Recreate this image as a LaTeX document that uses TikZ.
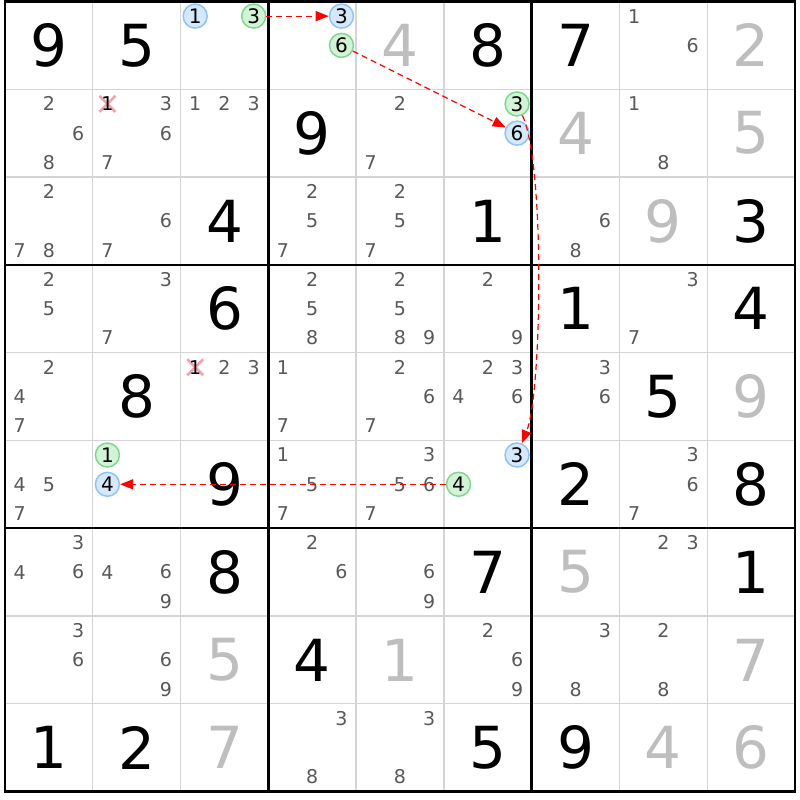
\documentclass[tikz,border=0pt]{standalone}
\usepackage{fontspec}
\setmainfont{DejaVu Sans}
\usetikzlibrary{arrows.meta}
\definecolor{candgrey}{HTML}{585858}
\definecolor{solvedgrey}{HTML}{BEBEBE}
\definecolor{gridgrey}{HTML}{D4D4D4}
\definecolor{blueedge}{HTML}{8CC4F8}
\definecolor{bluefill}{HTML}{D6E9FC}
\definecolor{greenedge}{HTML}{7FD68F}
\definecolor{greenfill}{HTML}{D3F3D6}
\definecolor{crosspink}{HTML}{F4A3AE}
\tikzset{
  thinline/.style={gridgrey,line width=1.3pt},
  thickline/.style={black,line width=2.6pt},
  given/.style={font=\fontsize{58}{60}\selectfont,inner sep=0pt},
  solved/.style={given,text=solvedgrey},
  cand/.style={font=\fontsize{19}{20}\selectfont,text=candgrey,inner sep=0pt},
  ringcand/.style={circle,line width=1.5pt,minimum size=24pt,inner sep=0pt,font=\fontsize{20}{21}\selectfont},
  bluecand/.style={ringcand,draw=blueedge,fill=bluefill},
  greencand/.style={ringcand,draw=greenedge,fill=greenfill},
  crossmark/.style={crosspink,line width=2.6pt},
  link/.style={red,dash pattern=on 6pt off 4pt,line width=1.2pt,-{Triangle[length=13pt,width=10pt]}}
}
\begin{document}
\begin{tikzpicture}[x=1pt,y=1pt]
\useasboundingbox (0,0) rectangle (800,-800);
% grid
\foreach \i in {1,...,8} {
  \draw[thinline] ({5+87.78*\i},-1.5) -- ({5+87.78*\i},-791.5);
  \draw[thinline] (5,{-1.5-87.78*\i}) -- (795,{-1.5-87.78*\i});
}
\foreach \i in {3,6} {
  \draw[thickline] ({5+87.78*\i},-1.5) -- ({5+87.78*\i},-791.5);
  \draw[thickline] (5,{-1.5-87.78*\i}) -- (795,{-1.5-87.78*\i});
}
\draw[thickline] (5,-1.5) rectangle (795,-791.5);
% givens and solved cells
\foreach \r/\c/\d in {0/0/9,0/1/5,0/5/8,0/6/7,1/3/9,2/2/4,2/5/1,2/8/3,3/2/6,3/6/1,3/8/4,
    4/1/8,4/7/5,5/2/9,5/6/2,5/8/8,6/2/8,6/5/7,6/8/1,7/3/4,8/0/1,8/1/2,8/5/5,8/6/9}
  \node[given] (v-\r-\c) at ({48.89+87.78*\c},{-45.39-87.78*\r}) {\d};
\foreach \r/\c/\d in {0/4/4,0/8/2,1/6/4,1/8/5,2/7/9,4/8/9,6/6/5,7/2/5,7/4/1,7/8/7,8/2/7,8/7/4,8/8/6}
  \node[solved] (v-\r-\c) at ({48.89+87.78*\c},{-45.39-87.78*\r}) {\d};
% pencil marks
\foreach \r/\c/\ds in {0/7/{1,6},1/0/{2,6,8},1/1/{3,6,7},1/2/{1,2,3},1/4/{2,7},1/7/{1,8},
    2/0/{2,7,8},2/1/{6,7},2/3/{2,5,7},2/4/{2,5,7},2/6/{6,8},
    3/0/{2,5},3/1/{3,7},3/3/{2,5,8},3/4/{2,5,8,9},3/5/{2,9},3/7/{3,7},
    4/0/{2,4,7},4/2/{2,3},4/3/{1,7},4/4/{2,6,7},4/5/{2,3,4,6},4/6/{3,6},
    5/0/{4,5,7},5/3/{1,5,7},5/4/{3,5,6,7},5/7/{3,6,7},
    6/0/{3,4,6},6/1/{4,6,9},6/3/{2,6},6/4/{6,9},6/7/{2,3},
    7/0/{3,6},7/1/{6,9},7/5/{2,6,9},7/6/{3,8},7/7/{2,8},
    8/3/{3,8},8/4/{3,8}} {
  \foreach \d in \ds {
    \pgfmathsetmacro\x{5+87.78*\c+14.63*(2*mod(\d-1,3)+1)}
    \pgfmathsetmacro\y{-1.5-87.78*\r-14.63*(2*int((\d-1)/3)+1)}
    \node[cand] (p-\r-\c-\d) at (\x,\y) {\d};
  }
}
% eliminated 1s
\foreach \r/\c in {1/1,4/2} {
  \pgfmathsetmacro\x{5+87.78*\c+14.63}
  \pgfmathsetmacro\y{-1.5-87.78*\r-14.63}
  \draw[crossmark] (\x-8,\y-8) -- (\x+8,\y+8);
  \draw[crossmark] (\x-8,\y+8) -- (\x+8,\y-8);
  \node[cand,text=black] (x-\r-\c) at (\x,\y) {1};
}
% chain
\foreach \r/\c/\d/\s/\n in {0/2/1/bluecand/b02,0/2/3/greencand/g02,0/3/3/bluecand/b03,0/3/6/greencand/g03,
    1/5/3/greencand/g15,1/5/6/bluecand/b15,5/1/1/greencand/g51,5/1/4/bluecand/b51,
    5/5/3/bluecand/b55,5/5/4/greencand/g55} {
  \pgfmathsetmacro\x{5+87.78*\c+14.63*(2*mod(\d-1,3)+1)}
  \pgfmathsetmacro\y{-1.5-87.78*\r-14.63*(2*int((\d-1)/3)+1)}
  \node[\s] (\n) at (\x,\y) {\d};
}
\draw[link] (g02) -- (b03);
\draw[link] (g03) -- (b15);
\draw[link] (g15) to[out=-65,in=68,looseness=0.42] (b55);
\draw[link] (g55) -- (b51);
\end{tikzpicture}
\end{document}
